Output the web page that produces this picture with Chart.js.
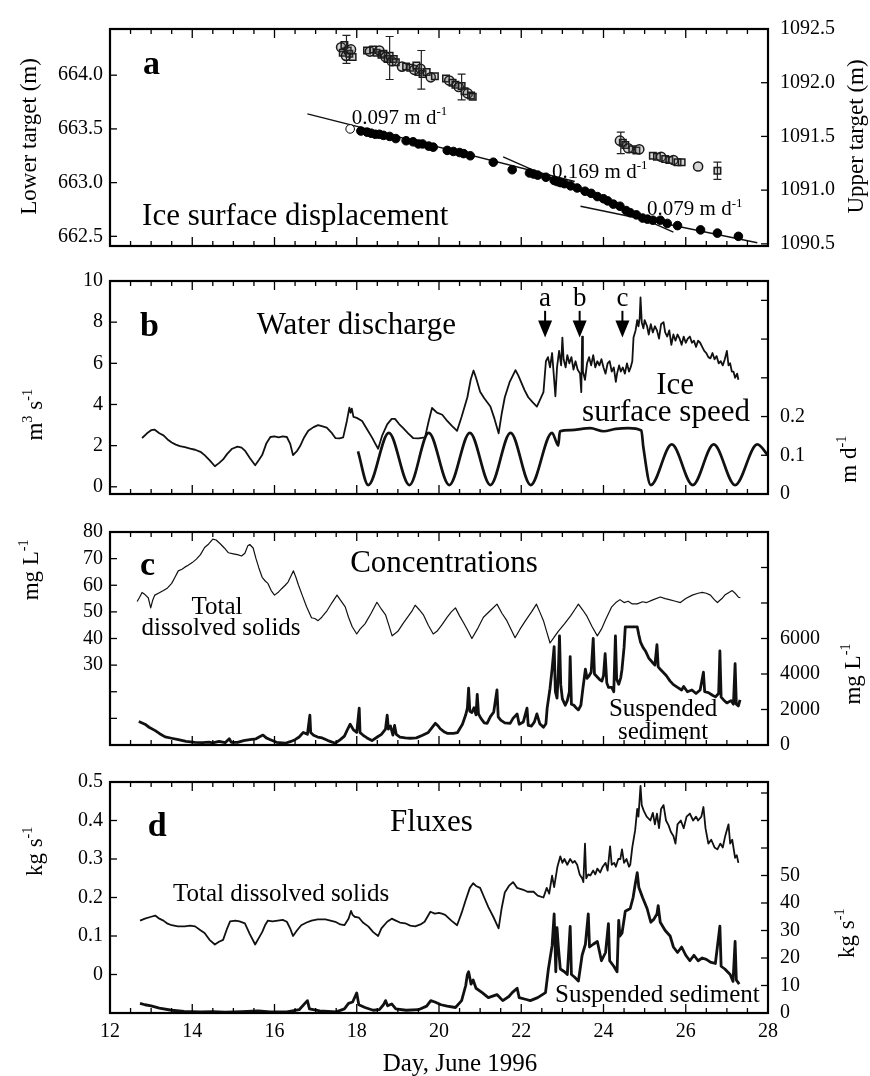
<!DOCTYPE html>
<html>
<head>
<meta charset="utf-8">
<script src="https://cdn.jsdelivr.net/npm/chart.js@4.4.1/dist/chart.umd.min.js"></script>
<style>
body { margin: 0; background: #fff; }
#fig { position: relative; width: 870px; height: 1076px; }
#fig canvas { position: absolute; left: 0; }
</style>
</head>
<body>
<div id="fig">
  <canvas id="cA" width="870" height="265" style="top:5px"></canvas>
  <canvas id="cB" width="870" height="261" style="top:257px"></canvas>
  <canvas id="cC" width="870" height="261" style="top:508px"></canvas>
  <canvas id="cD" width="870" height="318" style="top:758px"></canvas>
</div>
<script>
// ---- data: [day of June 1996, value] ----

// panel a: survey targets (m)
const upperTarget = [
  [17.62, 1092.33], [17.66, 1092.28], [17.7, 1092.35], [17.74, 1092.25], [17.78, 1092.3], [17.82, 1092.27], [17.86, 1092.31], [17.9, 1092.24],
  [18.25, 1092.3], [18.32, 1092.29], [18.4, 1092.31], [18.48, 1092.28], [18.55, 1092.3], [18.6, 1092.26], [18.65, 1092.27], [18.7, 1092.24],
  [18.75, 1092.22], [18.8, 1092.25], [18.85, 1092.2], [18.9, 1092.22], [18.95, 1092.19],
  [19.1, 1092.15], [19.2, 1092.15], [19.3, 1092.14], [19.4, 1092.12], [19.45, 1092.16], [19.5, 1092.1], [19.55, 1092.13], [19.6, 1092.08],
  [19.7, 1092.1], [19.8, 1092.05], [19.9, 1092.06],
  [20.17, 1092.04], [20.25, 1092.02], [20.33, 1092.0], [20.4, 1091.98], [20.48, 1091.96], [20.55, 1091.97], [20.62, 1091.92], [20.7, 1091.9],
  [20.78, 1091.88], [20.82, 1091.87],
  [24.4, 1091.46], [24.47, 1091.44], [24.53, 1091.42], [24.6, 1091.39], [24.7, 1091.38], [24.8, 1091.37], [24.87, 1091.38],
  [25.2, 1091.32], [25.3, 1091.31], [25.4, 1091.31], [25.5, 1091.29], [25.6, 1091.28], [25.7, 1091.28], [25.8, 1091.26], [25.9, 1091.26],
  [26.3, 1091.22], [26.77, 1091.18]
];
// [day, centre, half range]
const upperErrors = [
  [17.75, 1092.31, 0.13], [18.8, 1092.23, 0.2], [19.57, 1092.12, 0.18], [20.55, 1091.96, 0.12], [24.42, 1091.44, 0.1], [26.77, 1091.18, 0.08]
];
const lowerTarget = [
  [17.84, 663.5], [18.1, 663.48], [18.25, 663.47], [18.35, 663.46], [18.45, 663.45], [18.55, 663.45], [18.65, 663.44], [18.8, 663.43],
  [18.95, 663.41], [19.2, 663.39], [19.37, 663.38], [19.5, 663.36], [19.6, 663.36], [19.75, 663.34], [19.86, 663.33], [20.2, 663.3],
  [20.35, 663.29], [20.5, 663.28], [20.6, 663.27], [20.76, 663.25], [21.32, 663.19], [21.78, 663.12], [22.2, 663.09], [22.3, 663.08],
  [22.4, 663.07], [22.6, 663.05], [22.8, 663.02], [22.87, 663.01], [22.95, 663.0], [23.05, 662.99], [23.2, 662.97], [23.36, 662.95],
  [23.55, 662.92], [23.7, 662.9], [23.85, 662.87], [24.0, 662.85], [24.1, 662.83], [24.24, 662.8], [24.4, 662.78], [24.55, 662.74],
  [24.65, 662.72], [24.8, 662.7], [24.95, 662.67], [25.07, 662.66], [25.2, 662.65], [25.38, 662.65], [25.55, 662.62], [25.8, 662.6],
  [26.36, 662.56], [26.77, 662.53], [27.28, 662.5]
];
const fitSlow = [[16.8, 663.64], [23.3, 663.01]];
const fitFast = [[21.56, 663.24], [25.7, 662.54]];
const fitLate = [[23.44, 662.78], [27.74, 662.44]];

// panel b: water discharge (m3/s) and ice surface speed (m/d)
const discharge = [
  [12.78, 2.37], [12.9, 2.6], [13.0, 2.75], [13.08, 2.78], [13.2, 2.6], [13.3, 2.5], [13.4, 2.3], [13.5, 2.15], [13.6, 2.05], [13.7, 1.98],
  [13.82, 1.93], [13.95, 1.85], [14.07, 1.8], [14.2, 1.7], [14.3, 1.54], [14.42, 1.3], [14.55, 1.0], [14.65, 1.15], [14.75, 1.33], [14.85, 1.6],
  [14.97, 1.85], [15.1, 1.95], [15.2, 1.9], [15.28, 1.76], [15.4, 1.4], [15.53, 1.05], [15.62, 1.3], [15.7, 1.54], [15.8, 2.1], [15.9, 2.42],
  [16.0, 2.45], [16.1, 2.4], [16.2, 2.45], [16.3, 2.42], [16.38, 2.1], [16.45, 1.54], [16.55, 1.75], [16.62, 1.97], [16.72, 2.4], [16.82, 2.72],
  [16.95, 2.9], [17.06, 3.0], [17.15, 2.95], [17.27, 2.88], [17.38, 2.65], [17.48, 2.37], [17.58, 2.35], [17.67, 2.4], [17.76, 3.2], [17.82, 3.85],
  [17.85, 3.6], [17.88, 3.8], [17.92, 3.4], [18.0, 3.35], [18.13, 3.2], [18.25, 2.8], [18.37, 2.4], [18.45, 2.1], [18.52, 1.85], [18.62, 2.5],
  [18.74, 3.03], [18.85, 3.3], [18.93, 3.3], [19.03, 3.05], [19.13, 2.85], [19.25, 2.6], [19.37, 2.37], [19.5, 2.35], [19.66, 2.4], [19.75, 3.2],
  [19.83, 3.83], [19.95, 3.6], [20.08, 3.5], [20.2, 3.2], [20.32, 2.95], [20.44, 2.72], [20.55, 3.4], [20.69, 4.35], [20.77, 5.2], [20.84, 5.65],
  [20.9, 5.3], [21.0, 4.62], [21.1, 4.3], [21.25, 3.9], [21.35, 3.3], [21.45, 2.6], [21.52, 3.5], [21.6, 4.35], [21.72, 5.1], [21.86, 5.67],
  [21.93, 5.4], [22.0, 5.07], [22.08, 4.7], [22.17, 4.35], [22.28, 4.1], [22.38, 3.9], [22.45, 4.2], [22.54, 4.6], [22.6, 6.1], [22.65, 6.3],
  [22.7, 5.8], [22.75, 6.5], [22.8, 5.2], [22.83, 4.4], [22.87, 5.8], [22.92, 6.6], [22.97, 5.9], [23.0, 7.25], [23.03, 6.2], [23.08, 5.8],
  [23.12, 6.4], [23.17, 6.0], [23.22, 6.3], [23.27, 5.7], [23.32, 6.1], [23.37, 5.7], [23.43, 5.5], [23.46, 4.6], [23.48, 7.3], [23.5, 5.6],
  [23.55, 5.2], [23.6, 6.0], [23.65, 6.3], [23.7, 5.9], [23.75, 6.4], [23.8, 5.8], [23.85, 6.1], [23.9, 5.9], [23.95, 6.2], [24.0, 5.8],
  [24.05, 5.5], [24.1, 6.0], [24.15, 6.1], [24.2, 5.6], [24.25, 5.8], [24.3, 5.1], [24.33, 5.5], [24.38, 5.9], [24.42, 5.6], [24.47, 5.8],
  [24.52, 5.5], [24.57, 6.0], [24.62, 5.6], [24.66, 5.8], [24.7, 6.1], [24.73, 7.25], [24.78, 7.6], [24.82, 8.1], [24.85, 7.8], [24.88, 8.2],
  [24.9, 9.2], [24.93, 8.0], [24.97, 7.7], [25.0, 8.1], [25.06, 7.8], [25.1, 7.4], [25.15, 7.9], [25.2, 7.5], [25.25, 7.8], [25.3, 7.6],
  [25.35, 7.2], [25.4, 7.9], [25.46, 8.0], [25.5, 7.5], [25.55, 7.3], [25.6, 7.6], [25.65, 6.9], [25.7, 7.4], [25.75, 7.1], [25.8, 7.4],
  [25.85, 7.2], [25.9, 6.9], [25.95, 7.3], [26.0, 7.0], [26.05, 7.2], [26.1, 7.3], [26.15, 7.0], [26.2, 7.1], [26.25, 6.8], [26.3, 7.1],
  [26.35, 7.0], [26.4, 6.8], [26.45, 6.6], [26.5, 6.5], [26.55, 6.3], [26.6, 6.24], [26.65, 6.5], [26.7, 6.2], [26.75, 6.35], [26.8, 6.0],
  [26.85, 6.1], [26.9, 5.9], [26.95, 6.2], [27.0, 6.6], [27.04, 5.9], [27.08, 6.0], [27.12, 5.6], [27.16, 5.6], [27.2, 5.3], [27.25, 5.5],
  [27.28, 5.2]
];
const iceSpeed = [
  [18.03, 0.11], [18.28, 0.023], [18.78, 0.158], [19.28, 0.023], [19.75, 0.158], [20.25, 0.023], [20.75, 0.158], [21.25, 0.023],
  [21.74, 0.158], [22.23, 0.023], [22.75, 0.158], [22.85, 0.135], [22.9, 0.125], [22.94, 0.162], [23.2, 0.165], [23.68, 0.17],
  [24.0, 0.162], [24.3, 0.168], [24.6, 0.17], [24.92, 0.164], [24.97, 0.12], [25.15, 0.023], [25.66, 0.128], [26.17, 0.023],
  [26.68, 0.128], [27.2, 0.023], [27.74, 0.128], [28.0, 0.1]
];

// panel c: concentrations, total dissolved solids (mg/L) and suspended sediment (mg/L)
const tdsConc = [
  [12.66, 53.9], [12.72, 55.5], [12.78, 57.3], [12.85, 56.5], [12.93, 55.3], [12.99, 51.5], [13.04, 54.5], [13.09, 56.3], [13.2, 57.2], [13.3, 58.0],
  [13.4, 59.0], [13.5, 60.7], [13.58, 63.0], [13.66, 65.4], [13.75, 66.0], [13.82, 66.8], [13.9, 67.5], [14.0, 68.5], [14.1, 69.8], [14.2, 71.5],
  [14.3, 74.2], [14.4, 75.5], [14.5, 77.3], [14.58, 77.0], [14.68, 75.6], [14.78, 74.0], [14.88, 72.2], [15.0, 71.8], [15.1, 71.5], [15.2, 71.0],
  [15.28, 72.0], [15.35, 74.8], [15.4, 75.3], [15.48, 74.0], [15.55, 70.0], [15.62, 66.5], [15.7, 63.0], [15.78, 61.5], [15.84, 60.7], [15.92, 58.0],
  [16.0, 56.3], [16.1, 57.5], [16.18, 58.8], [16.26, 60.0], [16.33, 61.2], [16.4, 63.5], [16.46, 65.4], [16.52, 63.0], [16.58, 60.2], [16.68, 56.0],
  [16.78, 51.9], [16.9, 47.8], [16.98, 47.5], [17.06, 46.7], [17.15, 48.0], [17.28, 50.5], [17.4, 53.5], [17.52, 56.3], [17.6, 54.5], [17.72, 51.9],
  [17.8, 48.0], [17.89, 44.4], [18.0, 41.7], [18.08, 43.5], [18.2, 45.5], [18.35, 49.5], [18.49, 53.6], [18.6, 51.0], [18.7, 48.9], [18.78, 45.0],
  [18.86, 41.0], [18.94, 42.0], [19.0, 42.7], [19.12, 45.5], [19.25, 48.3], [19.35, 50.5], [19.42, 52.5], [19.52, 50.8], [19.62, 48.9], [19.74, 45.0],
  [19.86, 41.7], [19.95, 42.7], [20.07, 45.1], [20.2, 48.0], [20.3, 50.0], [20.4, 51.5], [20.5, 48.5], [20.6, 45.8], [20.7, 43.0], [20.8, 40.0],
  [20.95, 44.0], [21.08, 48.0], [21.25, 50.5], [21.41, 52.9], [21.53, 49.5], [21.65, 46.7], [21.75, 43.5], [21.85, 40.3], [21.97, 43.5], [22.1, 46.6],
  [22.25, 50.0], [22.37, 52.9], [22.45, 50.0], [22.54, 46.7], [22.62, 42.5], [22.7, 38.3], [22.8, 40.5], [22.9, 42.7], [23.05, 45.5], [23.2, 48.5],
  [23.3, 50.8], [23.39, 52.9], [23.5, 50.6], [23.6, 48.3], [23.72, 44.5], [23.85, 41.0], [23.95, 43.5], [24.05, 47.0], [24.2, 51.9], [24.3, 53.5],
  [24.4, 54.6], [24.5, 53.5], [24.6, 54.0], [24.7, 53.0], [24.82, 53.0], [24.95, 53.8], [25.05, 53.5], [25.2, 54.5], [25.38, 55.6], [25.5, 55.0],
  [25.6, 54.6], [25.75, 54.0], [25.87, 53.5], [26.0, 55.0], [26.16, 56.3], [26.3, 57.0], [26.4, 57.3], [26.5, 57.0], [26.6, 56.3], [26.7, 54.5],
  [26.77, 53.5], [26.88, 55.0], [26.95, 56.3], [27.05, 57.3], [27.13, 58.0], [27.2, 57.0], [27.28, 55.5], [27.33, 55.3]
];
const ssConc = [
  [12.7, 1320], [12.85, 1170], [12.95, 1000], [13.1, 810], [13.2, 650], [13.34, 460], [13.5, 380], [13.66, 300], [13.85, 200], [14.07, 150],
  [14.25, 130], [14.4, 160], [14.5, 120], [14.65, 200], [14.8, 130], [14.9, 350], [14.95, 150], [15.1, 150], [15.25, 250], [15.4, 300],
  [15.55, 350], [15.65, 480], [15.72, 560], [15.8, 400], [15.9, 300], [16.05, 150], [16.26, 100], [16.4, 200], [16.5, 300], [16.6, 450],
  [16.7, 710], [16.8, 600], [16.86, 1680], [16.88, 700], [16.95, 550], [17.05, 450], [17.16, 400], [17.3, 250], [17.48, 100], [17.6, 300],
  [17.7, 500], [17.78, 900], [17.84, 1170], [17.92, 850], [18.0, 710], [18.06, 2080], [18.08, 700], [18.15, 560], [18.25, 400], [18.37, 250],
  [18.5, 450], [18.6, 600], [18.7, 900], [18.74, 1680], [18.77, 900], [18.82, 1070], [18.88, 560], [18.92, 1100], [18.96, 600], [19.05, 450],
  [19.18, 400], [19.3, 380], [19.45, 400], [19.6, 550], [19.74, 710], [19.82, 950], [19.91, 1220], [19.98, 1070], [20.03, 915], [20.12, 750],
  [20.2, 660], [20.35, 660], [20.45, 700], [20.57, 1170], [20.65, 1700], [20.69, 2080], [20.72, 3200], [20.75, 1900], [20.8, 1830], [20.85, 2100],
  [20.9, 1700], [20.93, 2850], [20.96, 1750], [21.02, 1500], [21.1, 1250], [21.17, 1220], [21.25, 1600], [21.33, 1850], [21.41, 3100], [21.44, 1580],
  [21.5, 1400], [21.6, 1250], [21.73, 1220], [21.8, 1500], [21.9, 1750], [21.95, 1170], [22.05, 1300], [22.14, 2080], [22.17, 1100], [22.25, 1070],
  [22.32, 1300], [22.38, 1750], [22.45, 1200], [22.54, 1000], [22.6, 1200], [22.63, 2080], [22.7, 3200], [22.75, 4270], [22.8, 5540], [22.83, 3000],
  [22.87, 2640], [22.9, 4000], [22.93, 6150], [22.96, 3400], [23.0, 2600], [23.07, 2240], [23.12, 2500], [23.17, 3000], [23.19, 4980], [23.22, 2300],
  [23.28, 2240], [23.33, 2100], [23.39, 1980], [23.45, 2240], [23.5, 3200], [23.56, 4270], [23.6, 3760], [23.65, 3900], [23.7, 4100], [23.75, 6000],
  [23.78, 4000], [23.82, 3900], [23.9, 3700], [23.96, 3600], [24.0, 3900], [24.04, 5140], [24.08, 3500], [24.12, 3250], [24.2, 3250], [24.25, 3000],
  [24.29, 6150], [24.32, 3700], [24.37, 3420], [24.42, 3800], [24.45, 4270], [24.5, 5500], [24.53, 6660], [24.65, 6660], [24.82, 6660], [24.86, 6200],
  [24.9, 5800], [24.96, 5500], [25.02, 5300], [25.1, 4900], [25.19, 4650], [25.25, 4500], [25.3, 5650], [25.33, 4400], [25.38, 4270], [25.45, 4100],
  [25.53, 3900], [25.62, 3600], [25.7, 3400], [25.8, 3250], [25.9, 3100], [25.95, 3300], [26.04, 3000], [26.15, 3100], [26.25, 2900], [26.35, 3100],
  [26.43, 4100], [26.46, 3000], [26.55, 2950], [26.65, 2800], [26.72, 2710], [26.8, 2900], [26.83, 5300], [26.86, 2700], [26.92, 2540], [27.0, 2370],
  [27.1, 2500], [27.16, 2300], [27.2, 4580], [27.23, 2300], [27.28, 2200], [27.32, 2540]
];

// panel d: fluxes, total dissolved solids (kg/s) and suspended sediment (kg/s)
const tdsFlux = [
  [12.73, 0.14], [12.85, 0.145], [13.0, 0.15], [13.1, 0.153], [13.2, 0.145], [13.3, 0.14], [13.4, 0.132], [13.5, 0.128], [13.65, 0.125], [13.82, 0.125],
  [13.95, 0.127], [14.07, 0.125], [14.2, 0.115], [14.3, 0.108], [14.42, 0.09], [14.55, 0.078], [14.65, 0.085], [14.75, 0.09], [14.85, 0.12], [14.92, 0.138],
  [15.05, 0.14], [15.15, 0.138], [15.28, 0.133], [15.4, 0.105], [15.53, 0.078], [15.62, 0.095], [15.7, 0.11], [15.78, 0.13], [15.84, 0.14], [15.95, 0.138],
  [16.08, 0.14], [16.2, 0.142], [16.3, 0.137], [16.38, 0.12], [16.45, 0.1], [16.55, 0.115], [16.65, 0.128], [16.78, 0.135], [16.9, 0.14], [17.05, 0.143],
  [17.24, 0.143], [17.36, 0.14], [17.48, 0.137], [17.6, 0.13], [17.7, 0.128], [17.8, 0.145], [17.86, 0.165], [17.9, 0.155], [17.95, 0.15], [18.05, 0.148],
  [18.15, 0.135], [18.28, 0.125], [18.4, 0.11], [18.52, 0.1], [18.6, 0.12], [18.74, 0.137], [18.85, 0.145], [18.95, 0.14], [19.05, 0.135], [19.18, 0.133],
  [19.3, 0.127], [19.42, 0.125], [19.55, 0.13], [19.65, 0.137], [19.72, 0.15], [19.79, 0.163], [19.9, 0.158], [20.0, 0.16], [20.07, 0.158], [20.15, 0.155],
  [20.3, 0.14], [20.44, 0.128], [20.55, 0.16], [20.64, 0.19], [20.75, 0.225], [20.83, 0.237], [20.9, 0.23], [21.0, 0.225], [21.1, 0.2], [21.2, 0.175],
  [21.32, 0.15], [21.45, 0.12], [21.52, 0.17], [21.6, 0.213], [21.7, 0.23], [21.8, 0.24], [21.9, 0.225], [22.05, 0.22], [22.15, 0.215], [22.3, 0.215],
  [22.4, 0.205], [22.54, 0.2], [22.62, 0.225], [22.68, 0.21], [22.75, 0.257], [22.8, 0.227], [22.88, 0.28], [22.95, 0.307], [23.0, 0.29], [23.05, 0.3],
  [23.12, 0.285], [23.19, 0.3], [23.25, 0.29], [23.3, 0.295], [23.36, 0.285], [23.42, 0.26], [23.48, 0.25], [23.51, 0.24], [23.55, 0.34], [23.58, 0.25],
  [23.63, 0.26], [23.68, 0.257], [23.75, 0.27], [23.8, 0.26], [23.85, 0.275], [23.92, 0.265], [23.98, 0.28], [24.05, 0.29], [24.1, 0.27], [24.16, 0.333],
  [24.2, 0.285], [24.26, 0.29], [24.3, 0.28], [24.36, 0.3], [24.41, 0.3], [24.45, 0.325], [24.5, 0.29], [24.56, 0.3], [24.62, 0.28], [24.65, 0.285],
  [24.7, 0.33], [24.77, 0.375], [24.82, 0.43], [24.85, 0.41], [24.9, 0.49], [24.93, 0.44], [24.98, 0.425], [25.05, 0.41], [25.14, 0.4], [25.2, 0.42],
  [25.25, 0.39], [25.3, 0.418], [25.35, 0.38], [25.4, 0.43], [25.46, 0.44], [25.52, 0.4], [25.58, 0.388], [25.64, 0.37], [25.7, 0.36], [25.75, 0.34],
  [25.8, 0.39], [25.88, 0.4], [25.95, 0.38], [26.02, 0.41], [26.1, 0.418], [26.18, 0.4], [26.25, 0.41], [26.3, 0.4], [26.38, 0.41], [26.43, 0.435],
  [26.48, 0.38], [26.55, 0.34], [26.62, 0.35], [26.7, 0.33], [26.77, 0.325], [26.84, 0.34], [26.9, 0.33], [26.96, 0.36], [27.04, 0.39], [27.08, 0.34],
  [27.13, 0.35], [27.2, 0.303], [27.24, 0.31], [27.28, 0.29]
];
const ssFlux = [
  [12.73, 3.5], [12.85, 3.0], [13.0, 2.6], [13.2, 1.8], [13.5, 1.0], [13.8, 0.6], [14.2, 0.4], [14.5, 0.5], [14.8, 0.3], [15.2, 0.5],
  [15.6, 0.8], [15.9, 0.4], [16.3, 0.4], [16.6, 1.2], [16.8, 4.5], [16.85, 1.5], [17.1, 0.8], [17.5, 0.4], [17.7, 1.5], [17.8, 3.5],
  [17.9, 4.0], [18.0, 7.3], [18.05, 3.0], [18.2, 2.0], [18.4, 1.0], [18.55, 1.2], [18.65, 3.0], [18.7, 4.5], [18.75, 2.6], [18.85, 3.3],
  [18.95, 1.5], [19.2, 1.0], [19.5, 1.2], [19.7, 2.5], [19.8, 4.5], [19.9, 4.0], [20.05, 3.0], [20.2, 2.5], [20.4, 2.0], [20.55, 4.5],
  [20.65, 10], [20.69, 14], [20.72, 15], [20.78, 10.5], [20.83, 12], [20.9, 9], [21.05, 7.4], [21.2, 5.6], [21.41, 6.7], [21.55, 4.5],
  [21.7, 6], [21.78, 7.4], [21.9, 9], [21.95, 5.6], [22.1, 5], [22.22, 4.5], [22.4, 5.6], [22.59, 7.4], [22.66, 16], [22.75, 24.5],
  [22.8, 36], [22.84, 15], [22.87, 31], [22.9, 24.5], [22.95, 16], [23.05, 15], [23.12, 14], [23.19, 31.5], [23.22, 14], [23.3, 13],
  [23.39, 11.6], [23.48, 21], [23.56, 25], [23.63, 36], [23.66, 24], [23.75, 25], [23.85, 26], [23.95, 19], [24.05, 22], [24.12, 32.5],
  [24.15, 19], [24.25, 17], [24.33, 15], [24.37, 33.7], [24.4, 28], [24.45, 29], [24.53, 37], [24.65, 38], [24.72, 42], [24.77, 46.7],
  [24.82, 51], [24.86, 45.6], [24.95, 42], [25.06, 38], [25.15, 33], [25.22, 34], [25.3, 36], [25.33, 39], [25.38, 33], [25.5, 30],
  [25.62, 28], [25.7, 24], [25.8, 22], [25.9, 24], [26.0, 21], [26.1, 19], [26.2, 21], [26.3, 19], [26.4, 20], [26.5, 19.5],
  [26.6, 18.5], [26.72, 18], [26.83, 31.6], [26.86, 17], [26.95, 16], [27.08, 14], [27.15, 11.5], [27.2, 26], [27.23, 12], [27.3, 10.5]
];

// ---- drawing ----
const SERIF = "'Liberation Serif', 'Times New Roman', serif";
Chart.defaults.font.family = SERIF;
Chart.defaults.color = '#000';

const xy = arr => arr.map(p => ({ x: p[0], y: p[1] }));

// text with ^{...} superscripts
function drawRich(ctx, text, x, y, size, bold, align) {
  const parts = text.split(/\^\{([^}]*)\}/);
  const fnt = s => (bold ? 'bold ' : '') + s + 'px ' + SERIF;
  let total = 0;
  parts.forEach((p, i) => { ctx.font = fnt(i % 2 ? size * 0.62 : size); total += ctx.measureText(p).width; });
  let cx = align === 'center' ? x - total / 2 : align === 'right' ? x - total : x;
  ctx.textAlign = 'left';
  ctx.textBaseline = 'alphabetic';
  const base = y + size * 0.33;
  parts.forEach((p, i) => {
    const sup = i % 2 === 1;
    ctx.font = fnt(sup ? size * 0.62 : size);
    ctx.fillText(p, cx, sup ? base - size * 0.42 : base);
    cx += ctx.measureText(p).width;
  });
}

// box around the plot with inward tick marks
const framePlugin = {
  id: 'frame',
  afterDraw(chart) {
    const { ctx, chartArea: a } = chart;
    ctx.save();
    ctx.strokeStyle = '#000';
    ctx.lineWidth = 1.3;
    Object.values(chart.scales).forEach(s => {
      s.ticks.forEach(t => {
        const p = s.getPixelForValue(t.value);
        ctx.beginPath();
        if (s.axis === 'x') {
          const len = t.value % 2 === 0 ? 9 : 5;
          ctx.moveTo(p, a.bottom); ctx.lineTo(p, a.bottom - len);
          ctx.moveTo(p, a.top); ctx.lineTo(p, a.top + len);
        } else {
          const x0 = s.position === 'left' ? a.left : a.right;
          ctx.moveTo(x0, p); ctx.lineTo(x0 + (s.position === 'left' ? 7 : -7), p);
        }
        ctx.stroke();
      });
    });
    ctx.lineWidth = 2.2;
    ctx.strokeRect(a.left, a.top, a.width, a.height);
    ctx.restore();
  }
};

// labels, axis titles and arrows placed in data units
function notePlugin(items) {
  return {
    id: 'notes',
    afterDatasetsDraw(chart) {
      const ctx = chart.ctx, a = chart.chartArea, xs = chart.scales.x;
      items.forEach(n => {
        const ys = chart.scales[n.axis || 'y'];
        ctx.save();
        ctx.fillStyle = '#000';
        ctx.strokeStyle = '#000';
        if (n.arrow) {
          const px = xs.getPixelForValue(n.day);
          const y1 = ys.getPixelForValue(n.top), y2 = ys.getPixelForValue(n.tip);
          ctx.lineWidth = 2;
          ctx.beginPath(); ctx.moveTo(px, y1); ctx.lineTo(px, y2 - 10); ctx.stroke();
          ctx.beginPath(); ctx.moveTo(px - 7, y2 - 17); ctx.lineTo(px + 7, y2 - 17); ctx.lineTo(px, y2); ctx.closePath(); ctx.fill();
          drawRich(ctx, n.text, px, ys.getPixelForValue(n.val), n.size, false, 'center');
        } else if (n.side) {
          const px = n.side === 'left' ? a.left - n.off : a.right + n.off;
          ctx.translate(px, ys.getPixelForValue(n.val));
          ctx.rotate(-Math.PI / 2);
          drawRich(ctx, n.text, 0, 0, n.size, false, 'center');
        } else {
          drawRich(ctx, n.text, xs.getPixelForValue(n.day), ys.getPixelForValue(n.val), n.size, n.bold, n.align || 'left');
        }
        ctx.restore();
      });
    }
  };
}

const errorPlugin = {
  id: 'errbars',
  afterDatasetsDraw(chart) {
    const ctx = chart.ctx, xs = chart.scales.x, ys = chart.scales.y2;
    ctx.save();
    ctx.strokeStyle = '#222';
    ctx.lineWidth = 1.2;
    upperErrors.forEach(e => {
      const px = xs.getPixelForValue(e[0]);
      const t = ys.getPixelForValue(e[1] + e[2]), b = ys.getPixelForValue(e[1] - e[2]);
      ctx.beginPath();
      ctx.moveTo(px, t); ctx.lineTo(px, b);
      ctx.moveTo(px - 4, t); ctx.lineTo(px + 4, t);
      ctx.moveTo(px - 4, b); ctx.lineTo(px + 4, b);
      ctx.stroke();
    });
    ctx.restore();
  }
};

function dayAxis(withLabels) {
  return {
    type: 'linear', min: 12, max: 28,
    grid: { display: false, drawTicks: false },
    border: { display: false },
    ticks: {
      stepSize: 0.5, autoSkip: false, maxRotation: 0, display: withLabels, padding: 7,
      font: { size: 20 }, callback: v => (v % 2 === 0 ? String(v) : '')
    },
    afterFit: s => { s.height = withLabels ? 63 : 0; }
  };
}

function valueAxis(pos, min, max, step, label) {
  return {
    type: 'linear', position: pos, min: min, max: max,
    grid: { display: false, drawTicks: false },
    border: { display: false },
    ticks: { stepSize: step, includeBounds: false, autoSkip: false, padding: pos === 'left' ? 7 : 12, font: { size: 20 }, callback: label },
    afterFit: s => { s.width = pos === 'left' ? 110 : 102; }
  };
}

function makeChart(id, datasets, scales, padBottom, plugins) {
  return new Chart(document.getElementById(id), {
    type: 'line',
    data: { datasets: datasets },
    options: {
      responsive: false, animation: false, devicePixelRatio: 1,
      layout: { padding: { top: 15, bottom: padBottom, left: 0, right: 0 }, autoPadding: false },
      plugins: { legend: { display: false }, tooltip: { enabled: false } },
      elements: { point: { radius: 0 }, line: { tension: 0, borderJoinStyle: 'round' } },
      scales: scales
    },
    plugins: [framePlugin].concat(plugins)
  });
}

function lineSet(arr, axis, width) {
  return { data: xy(arr), yAxisID: axis, borderColor: '#111', borderWidth: width, pointRadius: 0, fill: false };
}

// panel a
makeChart('cA', [
  {
    data: xy(lowerTarget), yAxisID: 'y', showLine: false, pointRadius: 4.3, pointBorderWidth: 1,
    pointBorderColor: '#000', pointBackgroundColor: c => (c.dataIndex === 0 ? '#fff' : '#000')
  },
  {
    data: xy(upperTarget), yAxisID: 'y2', showLine: false, pointRadius: 4.6, pointBorderWidth: 1.5,
    pointStyle: c => (c.dataIndex % 3 === 0 ? 'circle' : 'rect'),
    pointBorderColor: '#1a1a1a', pointBackgroundColor: 'rgba(90,90,90,0.25)'
  },
  lineSet(fitSlow, 'y', 1.4),
  lineSet(fitFast, 'y', 1.4),
  lineSet(fitLate, 'y', 1.4)
], {
  x: dayAxis(false),
  y: valueAxis('left', 662.41, 664.43, 0.5, v => v.toFixed(1)),
  y2: valueAxis('right', 1090.48, 1092.5, 0.5, v => v.toFixed(1))
}, 8, [errorPlugin, notePlugin([
  { day: 12.8, val: 664.12, text: 'a', size: 34, bold: true },
  { day: 17.88, val: 663.61, text: '0.097 m d^{-1}', size: 21 },
  { day: 22.75, val: 663.11, text: '0.169 m d^{-1}', size: 21 },
  { day: 25.06, val: 662.76, text: '0.079 m d^{-1}', size: 21 },
  { day: 12.78, val: 662.7, text: 'Ice surface displacement', size: 31 },
  { side: 'left', off: 82, val: 663.43, text: 'Lower target (m)', size: 23 },
  { side: 'right', off: 87, axis: 'y2', val: 1091.5, text: 'Upper target (m)', size: 23 }
])]);

// panel b
makeChart('cB', [
  lineSet(discharge, 'y', 1.8),
  Object.assign(lineSet(iceSpeed, 'y2', 2.7), { cubicInterpolationMode: 'monotone' })
], {
  x: dayAxis(false),
  y: valueAxis('left', -0.35, 10, 2, v => String(v)),
  y2: valueAxis('right', 0, 0.55, 0.1, v => (v < 0.25 ? (v === 0 ? '0' : v.toFixed(1)) : ''))
}, 10, [notePlugin([
  { day: 12.73, val: 7.87, text: 'b', size: 34, bold: true },
  { day: 15.57, val: 7.9, text: 'Water discharge', size: 31 },
  { day: 25.74, val: 5.0, text: 'Ice', size: 31, align: 'center' },
  { day: 25.52, val: 3.7, text: 'surface speed', size: 31, align: 'center' },
  { arrow: true, day: 22.58, top: 8.55, tip: 7.25, val: 9.2, text: 'a', size: 27 },
  { arrow: true, day: 23.42, top: 8.55, tip: 7.25, val: 9.2, text: 'b', size: 27 },
  { arrow: true, day: 24.46, top: 8.55, tip: 7.25, val: 9.2, text: 'c', size: 27 },
  { side: 'left', off: 76, val: 3.5, text: 'm^{3} s^{-1}', size: 23 },
  { side: 'right', off: 80, axis: 'y2', val: 0.09, text: 'm d^{-1}', size: 23 }
])]);

// panel c
makeChart('cC', [
  lineSet(tdsConc, 'y', 1.2),
  lineSet(ssConc, 'y2', 2.8)
], {
  x: dayAxis(false),
  y: valueAxis('left', 0, 80, 10, v => (v >= 30 ? String(v) : '')),
  y2: valueAxis('right', 0, 12000, 2000, v => (v <= 6000 ? String(v) : ''))
}, 10, [notePlugin([
  { day: 12.73, val: 68.1, text: 'c', size: 34, bold: true },
  { day: 17.84, val: 68.8, text: 'Concentrations', size: 31 },
  { day: 14.6, val: 52.2, text: 'Total', size: 25, align: 'center' },
  { day: 14.7, val: 44.4, text: 'dissolved solids', size: 25, align: 'center' },
  { day: 25.45, val: 13.9, text: 'Suspended', size: 25, align: 'center' },
  { day: 25.45, val: 5.4, text: 'sediment', size: 25, align: 'center' },
  { side: 'left', off: 80, val: 65.8, text: 'mg L^{-1}', size: 23 },
  { side: 'right', off: 84, axis: 'y2', val: 4000, text: 'mg L^{-1}', size: 23 }
])]);

// panel d
makeChart('cD', [
  lineSet(tdsFlux, 'y', 1.8),
  lineSet(ssFlux, 'y2', 2.8)
], {
  x: dayAxis(true),
  y: valueAxis('left', -0.1, 0.5, 0.1, v => (v > -0.05 ? (Math.abs(v) < 1e-9 ? '0' : v.toFixed(1)) : '')),
  y2: valueAxis('right', 0, 84, 10, v => (v <= 50 ? String(v) : ''))
}, 0, [notePlugin([
  { day: 12.92, val: 0.39, text: 'd', size: 34, bold: true },
  { day: 18.81, val: 0.4, text: 'Fluxes', size: 31 },
  { day: 13.53, val: 0.2125, text: 'Total dissolved solids', size: 25 },
  { day: 22.82, val: -0.05, text: 'Suspended sediment', size: 25 },
  { day: 20.51, val: -0.23, text: 'Day, June 1996', size: 25, align: 'center' },
  { side: 'left', off: 76, val: 0.32, text: 'kg s^{-1}', size: 23 },
  { side: 'right', off: 78, axis: 'y2', val: 29, text: 'kg s^{-1}', size: 23 }
])]);
</script>
</body>
</html>
